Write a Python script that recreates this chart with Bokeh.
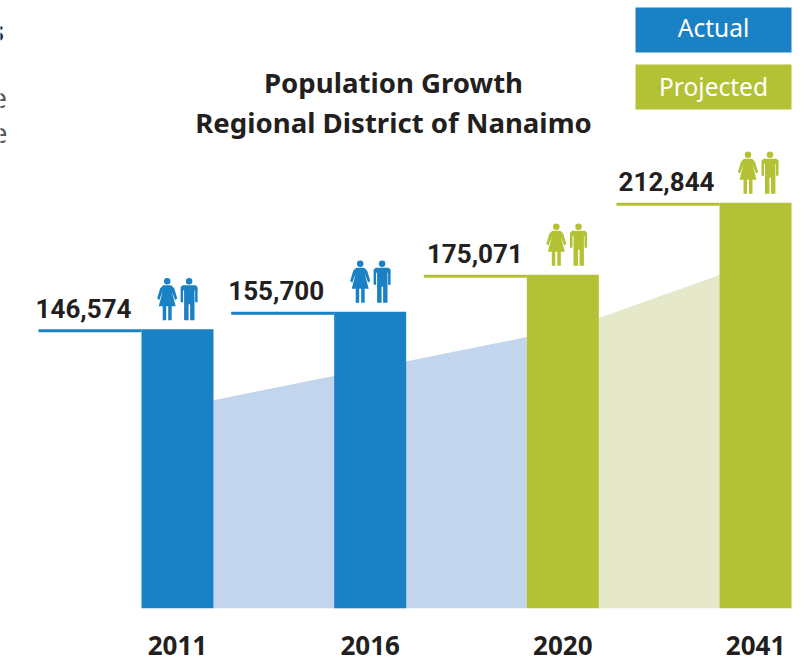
from bokeh.plotting import figure
from bokeh.models import Range1d, FixedTicker, Label
from bokeh.core.properties import value
from bokeh.embed import file_html
from bokeh.resources import INLINE

years = ["2011", "2016", "2020", "2041"]
population = [146574, 155700, 175071, 212844]
kinds = ["actual", "actual", "projected", "projected"]
blue_area_start = 109300
blue_area_end = 142400
green_area_start = 152400
green_area_end = 175000
title_lines = ["Population Growth", "Regional District of Nanaimo"]
legend_names = ["Actual", "Projected"]
cropped_letters = ["s", "e", "e"]

BLUE, GREEN = "#1a81c4", "#b3c234"
LBLUE, LGREEN = "#c3d5ec", "#e5e9c9"
INK = "#231f20"
FONT = "Roboto"
colors = {"actual": BLUE, "projected": GREEN}
PX_Y = 1 / 1.906 * 1000      # population per pixel
PX_X = 1 / 192.67            # index per pixel
HALF = 36 * PX_X
W, FH, BOTTOM = 812, 608, 53

def dx(px): return (px - 177) * PX_X
def dy(py): return (608 - py) * PX_Y

p = figure(width=W, height=FH + BOTTOM, frame_width=W, frame_height=FH,
           output_backend="svg", toolbar_location=None,
           x_range=Range1d(dx(0), dx(812)), y_range=Range1d(0, dy(0)),
           min_border=0, min_border_bottom=BOTTOM, min_border_left=0, min_border_right=0, min_border_top=0,
           outline_line_color=None, background_fill_color="white", border_fill_color="white")
p.ygrid.visible = False
p.xgrid.visible = False
p.yaxis.visible = False

ax = p.xaxis[0]
ax.ticker = FixedTicker(ticks=list(range(len(years))))
ax.major_label_overrides = {i: y for i, y in enumerate(years)}
ax.axis_line_color = None
ax.major_tick_line_color = None
ax.minor_tick_line_color = None
ax.major_tick_in = 0
ax.major_tick_out = 0
ax.major_label_standoff = 27
ax.major_label_text_font = "Noto Sans"
ax.major_label_text_font_style = "bold"
ax.major_label_text_font_size = "26px"
ax.major_label_text_color = INK

# background wedges
p.varea(x=[0 + HALF, 2 - HALF], y1=[0, 0], y2=[blue_area_start, blue_area_end], fill_color=LBLUE)
p.varea(x=[2 + HALF, 3 - HALF], y1=[0, 0], y2=[green_area_start, green_area_end], fill_color=LGREEN)

idx = list(range(len(years)))
cols = [colors[k] for k in kinds]
p.vbar(x=idx, top=population, bottom=0, width=2 * HALF, fill_color=cols, line_color=None)

# rule to the left of each bar
p.quad(left=[i - HALF - 103 * PX_X for i in idx], right=[i - HALF for i in idx],
       top=population, bottom=[v - 3 * PX_Y for v in population], fill_color=cols, line_color=None)

label_gap = [10, 10, 4, 5]
p.text(x=[i - HALF - g * PX_X for i, g in zip(idx, label_gap)], y=[v + 21 * PX_Y for v in population],
       text=[f"{v:,}" for v in population], text_align="right", text_baseline="middle",
       text_font=value(FONT), text_font_size="26px", text_font_style="bold", text_color=INK)

# people icons (outline offsets in px, relative to icon centre x and feet)
WOMAN = [(-4, 35), (4, 35), (7, 32), (10, 22), (8, 20), (4.5, 29), (8.5, 14), (4.5, 14), (4.5, 0), (1, 0), (1, 14),
         (-1, 14), (-1, 0), (-4.5, 0), (-4.5, 14), (-8.5, 14), (-4.5, 29), (-8, 20), (-10, 22), (-7, 32)]
MAN = [(-6.5, 35), (6.5, 35), (8.5, 33), (8.5, 18), (6, 18), (6, 30), (5.4, 30), (5.4, 0), (1, 0), (1, 16), (-0.5, 16),
       (-0.5, 0), (-5, 0), (-5, 30), (-6, 30), (-6, 18), (-8.5, 18), (-8.5, 33)]
woman_px = [166.7, 359.7, 555.8, 747.5]
man_px = [188.6, 381.6, 578, 769.5]
xs, ys, hx, hy, hc, pc = [], [], [], [], [], []
for i, v in enumerate(population):
    foot = v + 9 * PX_Y
    for cx, shape in ((woman_px[i], WOMAN), (man_px[i], MAN)):
        xs.append([dx(cx + a) for a, _ in shape])
        ys.append([foot + b * PX_Y for _, b in shape])
        pc.append(cols[i])
        hx.append(dx(cx))
        hy.append(foot + 39 * PX_Y)
        hc.append(cols[i])
p.patches(xs, ys, fill_color=pc, line_color=None)
p.scatter(hx, hy, size=6.5, fill_color=hc, line_color=None)

# title
for line, py in zip(title_lines, (81, 121)):
    p.add_layout(Label(x=dx(393), y=dy(py), text=line, text_align="center", text_baseline="middle",
                       text_font="Noto Sans", text_font_style="bold", text_font_size="27.6px", text_color=INK))

# legend boxes
p.quad(left=[dx(635)] * 2, right=[dx(791)] * 2, top=[dy(7), dy(64)], bottom=[dy(52), dy(109)],
       fill_color=[BLUE, GREEN], line_color=None)
for name, py in zip(legend_names, (26.5, 85.5)):
    p.add_layout(Label(x=dx(713), y=dy(py), text=name, text_align="center", text_baseline="middle",
                       text_font="Noto Sans", text_font_size="24.5px", text_color="white"))

# letters of neighbouring page text, cropped by the left edge
for ch, px, py, col, style in zip(cropped_letters, (3.5, 6.5, 7), (30, 97, 132), (INK, "#58595b", "#58595b"),
                                  ("bold", "normal", "normal")):
    p.add_layout(Label(x=dx(px), y=dy(py), text=ch, text_align="right", text_baseline="middle",
                       text_font="Noto Sans", text_font_style=style, text_font_size="27px", text_color=col))

open("out.html", "w").write(file_html(p, INLINE))
